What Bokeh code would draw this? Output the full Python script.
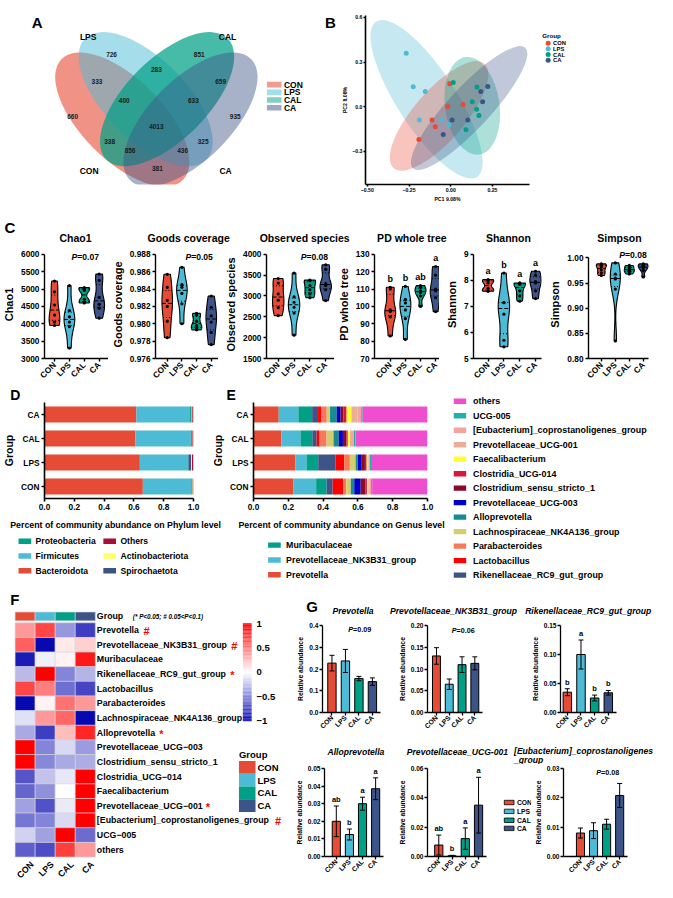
import math
import numpy as np
from bokeh.plotting import figure
from bokeh.layouts import row, column
from bokeh.models import (Range1d, FactorRange, FixedTicker, ColumnDataSource, Whisker,
                          TeeHead, PrintfTickFormatter)
from bokeh.transform import linear_cmap
from bokeh.core.properties import value
from bokeh.embed import file_html
from bokeh.resources import INLINE

# ======================= DATA =======================
groups = ["CON", "LPS", "CAL", "CA"]
group_colors = ["#E64B35", "#4DBBD5", "#00A087", "#3C5488"]

# ---- A: Venn (OTU counts per region)
venn_counts = [726, 851, 283, 333, 659, 400, 633, 660, 935, 4013, 338, 325, 856, 436, 381]

# ---- B: PCoA scores
pc1_CON = [-0.006, -0.017, 0.074, -0.112, -0.093, -0.191]
pc2_CON = [0.155, 0.002, 0.015, -0.089, -0.134, -0.221]
pc1_LPS = [-0.267, -0.225, -0.153, -0.188, -0.053, -0.011]
pc2_LPS = [0.359, 0.134, 0.102, -0.089, -0.089, -0.121]
pc1_CAL = [0.015, 0.157, 0.129, 0.155, 0.169, 0.091]
pc2_CAL = [0.162, 0.132, 0.034, -0.017, -0.059, -0.155]
pc1_CA = [0.222, 0.180, 0.191, 0.008, 0.102, -0.045]
pc2_CA = [0.136, 0.102, 0.034, -0.089, -0.089, -0.187]
# confidence ellipses: centre (data), full axes (px), angle (deg)  order CON, LPS, CAL, CA
ell_cx = [-0.070, -0.145, 0.129, 0.110]
ell_cy = [-0.062, 0.050, 0.006, -0.009]
ell_w = [142, 190, 101, 169]
ell_h = [52, 60, 56, 43]
ell_ang = [49, -57, -82, 47]

# ---- C: alpha diversity (samples per group)
chao1 = [[5230, 4920, 4540, 4250, 4050, 3950], [5100, 4380, 4200, 4050, 3920, 3300],
         [5040, 5010, 4960, 4700, 4620, 4600], [5430, 5250, 4760, 4560, 4450, 4160]]
goods = [[0.9857, 0.9842, 0.9827, 0.9820, 0.9803, 0.9784], [0.9865, 0.9845, 0.9842, 0.9835, 0.9823, 0.9800],
         [0.9812, 0.9810, 0.9803, 0.9798, 0.9795, 0.9793], [0.9832, 0.9819, 0.9809, 0.9802, 0.9790, 0.9776]]
observed = [[3420, 3310, 3050, 2900, 2720, 2530], [3550, 2980, 2850, 2730, 2590, 2060],
            [3380, 3370, 3250, 3150, 3050, 2960], [3750, 3640, 3300, 3250, 3150, 2890]]
pd_tree = [[111, 110, 98, 97, 94, 83], [111.5, 104, 102, 98, 93, 81],
           [112, 111, 109, 108, 106, 100], [123, 118, 110, 109, 105, 97]]
shannon = [[8.03, 8.0, 7.9, 7.7, 7.6, 7.58], [8.28, 7.15, 7.14, 6.7, 5.7, 5.45],
           [7.9, 7.88, 7.85, 7.6, 7.4, 7.2], [8.35, 8.2, 7.95, 7.9, 7.6, 7.3]]
simpson = [[0.988, 0.986, 0.982, 0.976, 0.970, 0.965], [0.990, 0.968, 0.960, 0.958, 0.938, 0.835],
           [0.985, 0.982, 0.978, 0.975, 0.972, 0.968], [0.988, 0.986, 0.983, 0.980, 0.975, 0.962]]
pd_letters = ["b", "b", "ab", "a"]
shannon_letters = ["a", "b", "a", "a"]

# ---- D: phylum composition
phyla = ["Bacteroidota", "Firmicutes", "Proteobacteria", "Spirochaetota", "Actinobacteriota", "Others"]
phylum_colors = ["#E64B35", "#4DBBD5", "#00A087", "#3C5488", "#FFFF66", "#A50F3A"]
phylum_CON = [0.660, 0.325, 0.004, 0.003, 0.003, 0.005]
phylum_LPS = [0.640, 0.323, 0.004, 0.018, 0.005, 0.010]
phylum_CAL = [0.610, 0.372, 0.006, 0.002, 0.003, 0.007]
phylum_CA = [0.617, 0.360, 0.008, 0.003, 0.004, 0.008]

# ---- E: genus composition
genera = ["Prevotella", "Prevotellaceae_NK3B31_group", "Muribaculaceae", "Rikenellaceae_RC9_gut_group",
          "Lactobacillus", "Parabacteroides", "Lachnospiraceae_NK4A136_group", "Alloprevotella",
          "Prevotellaceae_UCG-003", "Clostridium_sensu_stricto_1", "Clostridia_UCG-014", "Faecalibacterium",
          "Prevotellaceae_UCG-001", "[Eubacterium]_coprostanoligenes_group", "UCG-005", "others"]
genus_colors = ["#E64B35", "#4DBBD5", "#00A087", "#3C5488", "#FF0000", "#F37B5B", "#D6CE6E", "#138D8D",
                "#0000CC", "#8B0A2A", "#DC143C", "#FFFF33", "#E8B09A", "#F4A3A3", "#20B2AA", "#EF4FCF"]
genus_CON = [0.230, 0.130, 0.060, 0.035, 0.060, 0.018, 0.026, 0.020, 0.037, 0.028, 0.008, 0.008, 0.008, 0.008, 0.006, 0.318]
genus_LPS = [0.240, 0.065, 0.067, 0.100, 0.050, 0.032, 0.033, 0.0125, 0.019, 0.022, 0.010, 0.009, 0.0005, 0.0088, 0.012, 0.3192]
genus_CAL = [0.160, 0.110, 0.068, 0.025, 0.017, 0.040, 0.040, 0.030, 0.024, 0.020, 0.008, 0.012, 0.012, 0.011, 0.009, 0.414]
genus_CA = [0.145, 0.113, 0.079, 0.034, 0.017, 0.033, 0.019, 0.038, 0.023, 0.015, 0.019, 0.028, 0.035, 0.021, 0.008, 0.373]
legend_right = ["others", "UCG-005", "[Eubacterium]_coprostanoligenes_group", "Prevotellaceae_UCG-001",
                "Faecalibacterium", "Clostridia_UCG-014", "Clostridium_sensu_stricto_1", "Prevotellaceae_UCG-003",
                "Alloprevotella", "Lachnospiraceae_NK4A136_group", "Parabacteroides", "Lactobacillus",
                "Rikenellaceae_RC9_gut_group"]
legend_bottom = ["Muribaculaceae", "Prevotellaceae_NK3B31_group", "Prevotella"]

# ---- F: heatmap (z-scores; columns CON, LPS, CAL, CA)
hm_rows = ["Prevotella", "Prevotellaceae_NK3B31_group", "Muribaculaceae", "Rikenellaceae_RC9_gut_group",
           "Lactobacillus", "Parabacteroides", "Lachnospiraceae_NK4A136_group", "Alloprevotella",
           "Prevotellaceae_UCG\u2212003", "Clostridium_sensu_stricto_1", "Clostridia_UCG\u2212014",
           "Faecalibacterium", "Prevotellaceae_UCG\u2212001", "[Eubacterium]_coprostanoligenes_group",
           "UCG\u2212005", "others"]
hm_CON = [0.40, 0.62, -0.92, -0.28, 0.72, -1.00, -0.12, -0.35, 1.00, 1.00, -0.68, -0.62, -0.38, -0.55, -0.18, -0.65]
hm_LPS = [0.72, -1.00, -0.06, 1.00, 0.50, 0.05, 0.40, -0.78, -0.50, -0.48, -0.25, -0.45, -0.70, -0.50, -0.38, -0.72]
hm_CAL = [-0.42, 0.08, 0.05, -0.50, -0.58, 0.55, 0.60, 0.25, -0.15, -0.35, -0.10, 0.00, -0.08, -0.15, 1.00, 0.75]
hm_CA = [-0.78, 0.18, 0.90, -0.30, -0.75, 0.40, -1.00, 0.85, -0.40, -0.33, 1.00, 1.00, 1.00, 1.00, -0.60, 0.40]
hm_marks = ["#", "#", "", "*", "", "", "", "*", "", "", "", "", "*", "#", "", ""]
cbar_ticks = [1, 0.5, 0, -0.5, -1]

# ---- G: relative abundance (mean, SEM)
g_titles = ["Prevotella", "Prevotellaceae_NK3B31_group", "Rikenellaceae_RC9_gut_group",
            "Alloprevotella", "Prevotellaceae_UCG-001", "[Eubacterium]_coprostanoligenes"]
prev_mean = [0.227, 0.237, 0.156, 0.142]; prev_err = [0.036, 0.053, 0.010, 0.017]
nk3_mean = [0.130, 0.065, 0.110, 0.113]; nk3_err = [0.019, 0.012, 0.018, 0.015]
rik_mean = [0.035, 0.100, 0.025, 0.034]; rik_err = [0.006, 0.025, 0.005, 0.004]
allo_mean = [0.0200, 0.0125, 0.0300, 0.0385]; allo_err = [0.0087, 0.0031, 0.0037, 0.0062]
u001_mean = [0.0078, 0.0005, 0.0122, 0.0350]; u001_err = [0.0068, 0.0003, 0.0073, 0.0190]
eub_mean = [0.0080, 0.0088, 0.0110, 0.0208]; eub_err = [0.0017, 0.0027, 0.0017, 0.0041]
rik_letters = ["b", "a", "b", "b"]
allo_letters = ["ab", "b", "a", "a"]
u001_letters = ["ab", "b", "a", "a"]

# ======================= HELPERS =======================
FONT = "Liberation Sans"
SX, SY = 656 / 673, 881 / 898


def sx(v):
    return int(round(v * SX))


def sy(v):
    return int(round(v * SY))


def mkfig(box, frame=None, xr=None, yr=None, axes=False):
    x0, y0, x1, y1 = box
    fx0, fy0, fx1, fy1 = frame if frame is not None else box
    kw = dict(width=sx(x1) - sx(x0), height=sy(y1) - sy(y0),
              min_border_left=sx(fx0) - sx(x0), min_border_right=sx(x1) - sx(fx1),
              min_border_top=sy(fy0) - sy(y0), min_border_bottom=sy(y1) - sy(fy1),
              output_backend="svg", toolbar_location=None, tools="", title=None,
              x_range=xr, y_range=yr)
    if not axes:
        kw["x_axis_location"] = None
        kw["y_axis_location"] = None
    p = figure(**kw)
    p.outline_line_color = None
    p.grid.visible = False
    p.background_fill_color = "white"
    p.border_fill_color = "white"
    return p


def style_axes(p, tick_fs, lab_fs, lw=1.4, tick_out=3):
    for ax in p.axis:
        ax.axis_line_width = lw
        ax.axis_line_color = "black"
        ax.major_tick_line_width = lw
        ax.major_tick_line_color = "black"
        ax.major_tick_out = tick_out
        ax.major_tick_in = 0
        ax.minor_tick_line_color = None
        ax.major_label_text_font = FONT
        ax.major_label_text_font_style = "bold"
        ax.major_label_text_font_size = f"{tick_fs}px"
        ax.major_label_text_color = "black"
        ax.axis_label_text_font = FONT
        ax.axis_label_text_font_style = "bold"
        ax.axis_label_text_font_size = f"{lab_fs}px"
        ax.axis_label_text_color = "black"
        ax.major_label_standoff = 2
        ax.axis_label_standoff = 3


def txt(p, xs, ys, ss, size, align="left", base="middle", style="bold", color="black",
        angle=0.0, x_off=0, y_off=0):
    src = ColumnDataSource(dict(x=list(xs), y=list(ys), t=[str(s) for s in ss]))
    p.text(x="x", y="y", text="t", source=src, text_font=value(FONT),
           text_font_size=value(f"{size}px"), text_font_style=value(style),
           text_align=value(align), text_baseline=value(base), text_color=color,
           angle=angle, x_offset=x_off, y_offset=y_off)


def cat_xaxis(p, fs):
    p.xaxis.ticker = FixedTicker(ticks=[0, 1, 2, 3])
    p.xaxis.major_label_overrides = {i: g for i, g in enumerate(groups)}
    p.xaxis.major_label_orientation = math.pi / 4
    p.xaxis.major_label_text_font_size = f"{fs}px"


def pval_text(p, x, y, s, size):
    txt(p, [x], [y], ["P"], size, align="right", style="bold italic")
    txt(p, [x], [y], [s], size, align="left")


# ======================= A: Venn =======================
pA = mkfig((0, 0, 348, 208), xr=Range1d(0, 348), yr=Range1d(208, 0))
venn_cx = [125, 149, 171, 195]
venn_cy = [128, 103, 103, 128]
venn_angle = [-45, -45, 45, 45]
venn_alpha = [0.6, 0.5, 0.72, 0.45]
for i in range(4):
    pA.ellipse(x=[venn_cx[i]], y=[venn_cy[i]], width=176, height=100, angle=math.radians(venn_angle[i]),
               fill_color=group_colors[i], fill_alpha=venn_alpha[i], line_color=None)
venn_x = [114, 204, 160, 99, 226, 127, 198, 74, 241, 160, 112, 208, 133, 187, 161]
venn_y = [48, 48, 67, 81, 81, 104, 104, 124, 124, 136, 155, 155, 166, 166, 188]
txt(pA, venn_x, venn_y, venn_counts, 6.5, align="center", color="#1a1a1a")
txt(pA, [90, 233, 91, 231], [27, 27, 191, 191], ["LPS", "CAL", "CON", "CA"], 8.5, align="center")
leg_y = [85, 94.5, 104, 113.5]
pA.rect(x=[281] * 4, y=leg_y, width=15, height=7, fill_color=group_colors,
        fill_alpha=[0.55, 0.5, 0.5, 0.5], line_color=None)
txt(pA, [291] * 4, leg_y, groups, 8.5)
txt(pA, [32], [9], ["A"], 15)
txt(pA, [333], [8], ["B"], 15)

# ======================= B: PCoA =======================
fB = (370, 15, 543, 193)
pB = mkfig((348, 0, 548, 208), fB, Range1d(-0.511, 0.472), Range1d(-0.523, 0.613), axes=True)
for i in [1, 0, 2, 3]:
    pB.ellipse(x=[ell_cx[i]], y=[ell_cy[i]], width=ell_w[i] * SX, height=ell_h[i] * SX,
               width_units="screen", height_units="screen", angle=math.radians(ell_ang[i]),
               fill_color=group_colors[i], fill_alpha=0.32, line_color=None)
pcs = [(pc1_CON, pc2_CON), (pc1_LPS, pc2_LPS), (pc1_CAL, pc2_CAL), (pc1_CA, pc2_CA)]
for (xs, ys), c in zip(pcs, group_colors):
    pB.scatter(x=xs, y=ys, size=5, fill_color=c, line_color=None)
style_axes(pB, 5.2, 5.2, lw=1.6, tick_out=2)
pB.xaxis.ticker = FixedTicker(ticks=[-0.5, -0.25, 0.0, 0.25])
pB.xaxis.major_label_overrides = {-0.5: "\u22120.50", -0.25: "\u22120.25", 0.0: "0.00", 0.25: "0.25"}
pB.yaxis.ticker = FixedTicker(ticks=[-0.3, 0.0, 0.3, 0.6])
pB.yaxis.major_label_overrides = {-0.3: "\u22120.3", 0.0: "0.0", 0.3: "0.3", 0.6: "0.6"}
pB.xaxis.axis_label = "PC1 9.08%"
pB.yaxis.axis_label = "PC2 8.08%"
for ax in pB.axis:
    ax.major_label_standoff = 1
    ax.axis_label_standoff = 1

pBl = mkfig((548, 0, 673, 208), xr=Range1d(548, 673), yr=Range1d(208, 0))
txt(pBl, [556], [24], ["Group"], 6.2)
bl_y = [34, 41, 48, 55]
pBl.scatter(x=[562] * 4, y=bl_y, size=5, fill_color=group_colors, line_color=None)
txt(pBl, [567] * 4, bl_y, groups, 5.8)

# ======================= C: violins =======================
pCs = mkfig((0, 208, 673, 250), xr=Range1d(0, 673), yr=Range1d(250, 208))
txt(pCs, [4], [232], ["C"], 15)
txt(pCs, [77, 193, 312, 422, 521, 635], [242] * 6,
    ["Chao1", "Goods coverage", "Observed species", "PD whole tree", "Shannon", "Simpson"],
    10.5, align="center")

C_BOT = 393


def kde_shape(vals, n=80, bwf=0.7):
    v = np.asarray(vals, float)
    bw = v.std(ddof=1) * len(v) ** (-0.2) * bwf
    ys = np.linspace(v.min(), v.max(), n)
    d = np.exp(-0.5 * ((ys[:, None] - v[None, :]) / bw) ** 2).sum(1)
    return ys, d / d.max()


def violin_panel(bx, fx, xstart, yticks, fmt, series, ylabel, letters=None, pval=None, pad_px=4):
    ymin, ymax = yticks[0], yticks[-1]
    ppu = (368 - 259) / (ymax - ymin)
    yend = ymax + pad_px / ppu
    xend = xstart + (fx[1] - fx[0]) / 16.3
    p = mkfig((bx[0], 250, bx[1], C_BOT), (fx[0], 259 - pad_px, fx[1], 368),
              Range1d(xstart, xend), Range1d(ymin, yend), axes=True)
    for i, (vals, col) in enumerate(zip(series, group_colors)):
        ys, d = kde_shape(vals)
        hw = 0.36 * d
        p.patch(np.r_[i + hw, (i - hw)[::-1]], np.r_[ys, ys[::-1]], fill_color=col,
                line_color="black", line_width=1.1)
        q1, med, q3 = np.percentile(vals, [25, 50, 75])
        for q, dash in ((med, "4 2"), (q1, "1 2"), (q3, "1 2")):
            w = 0.36 * np.interp(q, ys, d)
            p.segment(x0=[i - w], y0=[q], x1=[i + w], y1=[q], line_color="black",
                      line_width=1, line_dash=dash)
        p.scatter(x=[i] * len(vals), y=vals, size=3.2, fill_color="black", line_color=None)
    style_axes(p, 8.3, 11, lw=1.4)
    p.yaxis.ticker = FixedTicker(ticks=yticks)
    p.yaxis.formatter = PrintfTickFormatter(format=fmt)
    p.yaxis.bounds = (ymin, ymax)
    p.yaxis.axis_label = ylabel
    cat_xaxis(p, 8.3)
    if letters:
        txt(p, [0, 1, 2, 3], [max(s) for s in series], letters, 9, align="center", y_off=-8.5)
    if pval:
        pval_text(p, pval[0], pval[1], pval[2], 8.6)
    return p


vp = [
    violin_panel((0, 111), (41, 111), -0.67, [3000, 3500, 4000, 4500, 5000, 5500, 6000], "%d", chao1,
                 "Chao1", pval=(1.53, 5917, "=0.07")),
    violin_panel((111, 224), (154, 224), -0.8, [0.976, 0.978, 0.980, 0.982, 0.984, 0.986, 0.988], "%.3f",
                 goods, "Goods coverage", pval=(1.63, 0.98767, "=0.05")),
    violin_panel((224, 343), (273, 343), -0.74, [1500, 2000, 2500, 3000, 3500, 4000], "%d", observed,
                 "Observed species", pval=(1.78, 3931, "=0.08")),
    violin_panel((343, 450), (380, 450), -1.04, [70, 80, 90, 100, 110, 120, 130], "%d", pd_tree,
                 "PD whole tree", letters=pd_letters),
    violin_panel((450, 560), (485, 555), -0.92, [5, 6, 7, 8, 9], "%d", shannon, "Shannon",
                 letters=shannon_letters),
    violin_panel((560, 673), (595, 665), -0.92, [0.80, 0.85, 0.90, 0.95, 1.00], "%.2f", simpson,
                 "Simpson", pval=(1.69, 1.0055, "=0.08"), pad_px=8),
]

# ======================= D / E =======================
DE_TOP = 410
pDEs = mkfig((0, C_BOT, 465, DE_TOP), xr=Range1d(0, 465), yr=Range1d(DE_TOP, C_BOT))
txt(pDEs, [10], [401.5], ["D"], 14)
txt(pDEs, [232], [401.5], ["E"], 14)

fD = (38, DE_TOP, 198, 508)
pD = mkfig((0, DE_TOP, 210, 528), fD, Range1d(0, 1), FactorRange(*groups), axes=True)
srcD = ColumnDataSource(dict(grp=groups, **{f"p{k}": [phylum_CON[k], phylum_LPS[k], phylum_CAL[k], phylum_CA[k]]
                                            for k in range(len(phyla))}))
pD.hbar_stack([f"p{k}" for k in range(len(phyla))], y="grp", height=0.66, fill_color=phylum_colors,
              line_color=None, source=srcD)
style_axes(pD, 8.3, 10.5, lw=1.6)
pD.xaxis.ticker = FixedTicker(ticks=[0, 0.2, 0.4, 0.6, 0.8, 1.0])
pD.xaxis.formatter = PrintfTickFormatter(format="%.1f")
pD.yaxis.axis_label = "Group"

fE = (260, DE_TOP, 438, 508)
pE = mkfig((210, DE_TOP, 465, 528), fE, Range1d(0, 1), FactorRange(*groups), axes=True)
srcE = ColumnDataSource(dict(grp=groups, **{f"g{k}": [genus_CON[k], genus_LPS[k], genus_CAL[k], genus_CA[k]]
                                            for k in range(len(genera))}))
pE.hbar_stack([f"g{k}" for k in range(len(genera))], y="grp", height=0.66, fill_color=genus_colors,
              line_color=None, source=srcE)
style_axes(pE, 8.3, 10.5, lw=1.6)
pE.xaxis.ticker = FixedTicker(ticks=[0, 0.2, 0.4, 0.6, 0.8, 1.0])
pE.xaxis.formatter = PrintfTickFormatter(format="%.1f")
pE.yaxis.axis_label = "Group"

pDl = mkfig((0, 528, 240, 600), xr=Range1d(0, 240), yr=Range1d(600, 528))
txt(pDl, [118], [535], ["Percent of community abundance on Phylum level"], 8.8, align="center")
dl_names = ["Proteobacteria", "Firmicutes", "Bacteroidota", "Others", "Actinobacteriota", "Spirochaetota"]
dl_x = [25, 25, 25, 112, 112, 112]
dl_y = [551, 566, 581, 551, 566, 581]
dl_cols = [phylum_colors[phyla.index(n)] for n in dl_names]
pDl.rect(x=dl_x, y=dl_y, width=13, height=5.5, fill_color=dl_cols, line_color=None)
txt(pDl, [x + 11 for x in dl_x], dl_y, dl_names, 8.6)

pEl = mkfig((240, 528, 465, 600), xr=Range1d(240, 465), yr=Range1d(600, 528))
txt(pEl, [350], [535], ["Percent of community abundance on Genus level"], 8.8, align="center")
el_y = [555, 570, 585]
pEl.rect(x=[281] * 3, y=el_y, width=13, height=5.5,
         fill_color=[genus_colors[genera.index(n)] for n in legend_bottom], line_color=None)
txt(pEl, [293] * 3, el_y, legend_bottom, 8.8)

pEr = mkfig((465, C_BOT, 673, 600), xr=Range1d(465, 673), yr=Range1d(600, C_BOT))
er_y = [408 + 14.78 * k for k in range(len(legend_right))]
pEr.rect(x=[471.5] * len(legend_right), y=er_y, width=13, height=5.5,
         fill_color=[genus_colors[genera.index(n)] for n in legend_right], line_color=None)
txt(pEr, [485] * len(legend_right), er_y, legend_right, 8.9)

# ======================= F: heatmap =======================
CW, RH = 20.6, 14.94


def hx(px):
    return (px - 15) / CW


def hy(py):
    return (py - 634) / RH


pF = mkfig((0, 600, 300, 898), xr=Range1d(hx(0), hx(300)), yr=Range1d(hy(898), hy(600)))


def _hex(c):
    return np.array([int(c[i:i + 2], 16) for i in (1, 3, 5)], float)


lo_c, mid_c, hi_c = _hex("#0808B0"), _hex("#FFFFFF"), _hex("#FF0000")
palette = []
for t in np.linspace(0, 1, 256):
    c = lo_c + (mid_c - lo_c) * (t * 2) if t < 0.5 else mid_c + (hi_c - mid_c) * ((t - 0.5) * 2)
    palette.append("#%02x%02x%02x" % tuple(int(round(v)) for v in c))
cmap = linear_cmap("v", palette, -1, 1)

hm_cols = [hm_CON, hm_LPS, hm_CAL, hm_CA]
cx, cy, cv = [], [], []
for c in range(4):
    for r in range(len(hm_rows)):
        cx.append(c + 0.5)
        cy.append(r + 0.5)
        cv.append(hm_cols[c][r])
pF.rect(x="x", y="y", width=1, height=1, fill_color=cmap, line_color="#D4D4DC", line_width=0.6,
        source=ColumnDataSource(dict(x=cx, y=cy, v=cv)))
pF.rect(x=[0.5, 1.5, 2.5, 3.5], y=[hy(627.5)] * 4, width=1, height=9 / RH, fill_color=group_colors,
        line_color="#D4D4DC", line_width=0.6)
txt(pF, [hx(99)] * len(hm_rows), [r + 0.5 for r in range(len(hm_rows))], hm_rows, 8.8)
txt(pF, [hx(99)], [hy(627.5)], ["Group"], 8.8)
txt(pF, [hx(136)], [hy(627.5)], ["(* P<0.05; # 0.05<P<0.1)"], 6.3, style="bold italic")
mark_x = [147, 237, 0, 236, 0, 0, 0, 163, 0, 0, 0, 0, 211, 282, 0, 0]
mk = [(hx(mark_x[r]), r + 0.5, m) for r, m in enumerate(hm_marks) if m]
txt(pF, [m[0] for m in mk], [m[1] for m in mk], [m[2] for m in mk], 11, color="#FF0000", y_off=1)
txt(pF, [c + 0.85 for c in range(4)], [hy(879)] * 4, groups, 8.8, align="right", angle=math.pi / 4)
# colour bar
cb_v = np.linspace(-1, 1, 121)
cb_y = [hy(635 + (1 - v) / 2 * 99) for v in cb_v]
pF.rect(x="x", y="y", width=9 / CW, height=99 / 120 / RH * 1.15, fill_color=cmap, line_color=None,
        source=ColumnDataSource(dict(x=[hx(253.5)] * len(cb_v), y=cb_y, v=list(cb_v))))
cb_lab = {1: "1", 0.5: "0.5", 0: "0", -0.5: "\u22120.5", -1: "\u22121"}
txt(pF, [hx(263)] * 5, [hy(635 + (1 - v) / 2 * 99) for v in cbar_ticks], [cb_lab[v] for v in cbar_ticks], 9.5)
# group legend
txt(pF, [hx(245)], [hy(768)], ["Group"], 9.5)
gl_y = [hy(781.5 + 13 * k) for k in range(4)]
pF.rect(x=[hx(253.5)] * 4, y=gl_y, width=17 / CW, height=13 / RH, fill_color=group_colors, line_color=None)
txt(pF, [hx(264)] * 4, gl_y, groups, 9.5)
txt(pF, [hx(10)], [hy(610)], ["F"], 15)

# ======================= G: bar charts =======================
R1 = (628, 755)
R2 = (779, 898)
pGs1 = mkfig((300, 600, 673, R1[0]), xr=Range1d(300, 673), yr=Range1d(R1[0], 600))
txt(pGs1, [314], [618], ["G"], 15)
txt(pGs1, [362, 465, 603], [622] * 3, g_titles[:3], 8.6, align="center", style="bold italic")
pGs2 = mkfig((300, R1[1], 673, R2[0]), xr=Range1d(300, 673), yr=Range1d(R2[0], R1[1]))
txt(pGs2, [365, 469], [766] * 2, g_titles[3:5], 8.6, align="center", style="bold italic")
txt(pGs2, [527], [765], [g_titles[5]], 8.6, style="bold italic")
txt(pGs2, [527], [774], ["_group"], 8.6, style="bold italic")


def bar_chart(bx, by, fl, ftop, fbot, xstart, yticks, fmt, means, errs, letters=None, pval=None):
    xend = 3.6
    fr = fl + (xend - xstart) * 14
    p = mkfig((bx[0], by[0], bx[1], by[1]), (fl, ftop, fr, fbot), Range1d(xstart, xend),
              Range1d(0, yticks[-1]), axes=True)
    src = ColumnDataSource(dict(x=[0, 1, 2, 3], m=means, up=[m + e for m, e in zip(means, errs)],
                                lo=[m - e for m, e in zip(means, errs)], c=group_colors))
    p.vbar(x="x", top="m", width=0.62, fill_color="c", line_color="black", line_width=1, source=src)
    p.add_layout(Whisker(source=src, base="x", upper="up", lower="lo", line_width=1, level="overlay",
                         upper_head=TeeHead(size=5, line_width=1), lower_head=TeeHead(size=5, line_width=1)))
    style_axes(p, 6.6, 6.8, lw=1.3, tick_out=3)
    p.yaxis.ticker = FixedTicker(ticks=yticks)
    p.yaxis.formatter = PrintfTickFormatter(format=fmt)
    p.yaxis.axis_label = "Relative abundance"
    for ax in p.axis:
        ax.axis_label_standoff = 2
        ax.major_label_standoff = 1
    cat_xaxis(p, 6.8)
    if letters:
        txt(p, [0, 1, 2, 3], [m + e for m, e in zip(means, errs)], letters, 7.5, align="center",
            base="bottom", y_off=-2)
    if pval:
        pval_text(p, pval[0], pval[1], pval[2], 7.2)
    return p


g1 = bar_chart((300, 405), R1, 330, 636, 726, -0.7, [0, 0.1, 0.2, 0.3, 0.4], "%.1f", prev_mean, prev_err,
               pval=(1.57, 0.382, "=0.09"))
g2 = bar_chart((405, 540), R1, 434, 637, 726, -0.7, [0, 0.05, 0.10, 0.15, 0.20], "%.2f", nk3_mean, nk3_err,
               pval=(1.57, 0.189, "=0.06"))
g3 = bar_chart((540, 673), R1, 575, 637, 726, -0.5, [0, 0.05, 0.10, 0.15], "%.2f", rik_mean, rik_err,
               letters=rik_letters)
g4 = bar_chart((300, 405), R2, 330, 783, 873, -0.9, [0, 0.01, 0.02, 0.03, 0.04, 0.05], "%.2f",
               allo_mean, allo_err, letters=allo_letters)
g5 = bar_chart((405, 510), R2, 436, 783, 873, -0.85, [0, 0.02, 0.04, 0.06], "%.2f", u001_mean, u001_err,
               letters=u001_letters)
g6 = bar_chart((545, 673), R2, 575, 783, 873, -1.3, [0, 0.01, 0.02, 0.03], "%.2f", eub_mean, eub_err,
               pval=(1.57, 0.0287, "=0.08"))

pGl = mkfig((510, R2[0], 545, R2[1]), xr=Range1d(510, 545), yr=Range1d(R2[1], R2[0]))
glg_y = [825, 837, 849, 860]
pGl.rect(x=[522] * 4, y=glg_y, width=10, height=6, fill_color=group_colors, line_color="black", line_width=0.8)
txt(pGl, [530] * 4, glg_y, groups, 6.8)

# ======================= LAYOUT =======================
layout = column(
    row(pA, pB, pBl),
    column(pCs, row(*vp)),
    row(column(pDEs, row(pD, pE), row(pDl, pEl)), pEr),
    row(pF, column(pGs1, row(g1, g2, g3), pGs2, row(g4, g5, pGl, g6))),
)

open("out.html", "w").write(file_html(layout, INLINE))
